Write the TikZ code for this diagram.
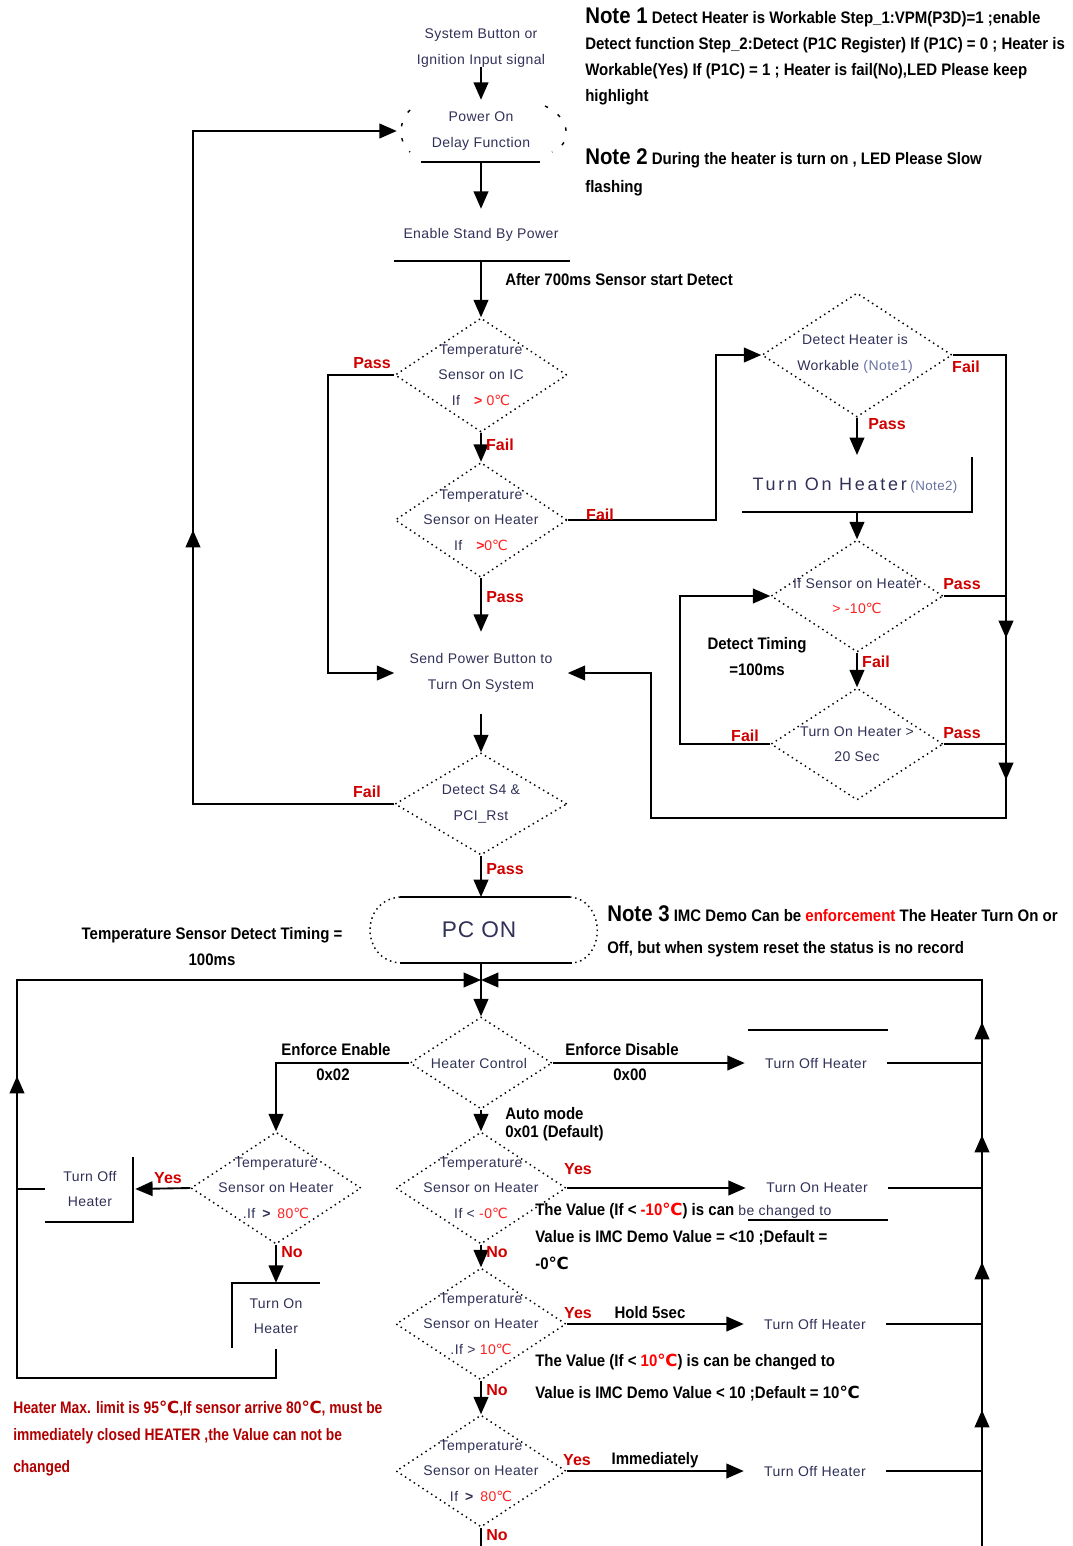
\documentclass[tikz,border=0pt]{standalone}
\usepackage{fontspec}
\setmainfont{Liberation Sans}
\newfontfamily\nf[LetterSpace=3]{Liberation Sans}
\newfontfamily\wf[LetterSpace=15]{Liberation Sans}
\newfontfamily\pf[LetterSpace=4]{Liberation Sans}
\newfontfamily\cf[FakeStretch=0.9]{Liberation Sans}
\newfontfamily\cg[FakeStretch=0.83]{Liberation Sans}
\newfontfamily\djv{DejaVu Sans}
\usetikzlibrary{arrows.meta,shapes.geometric}
\definecolor{ntext}{HTML}{303058}
\definecolor{lred}{HTML}{D00000}
\definecolor{vred}{HTML}{FF2020}
\definecolor{nlight}{HTML}{6870A0}
\definecolor{dred}{HTML}{B00000}
\newcommand\dC{{\djv ℃}}
\begin{document}
\begin{tikzpicture}[x=0.75pt,y=-0.75pt,
 ln/.style={line width=1.4pt},
 arr/.style={line width=1.4pt,-{Triangle[width=11pt,length=13pt]}},
 dotl/.style={line width=1.1pt,dash pattern=on 1.1pt off 2.8pt},
 sparse/.style={line width=1.1pt,dash pattern=on 2.5pt off 9pt},
 dia/.style n args={2}{diamond,draw,dotl,inner sep=0pt,minimum width=#1*0.75pt,minimum height=#2*0.75pt},
 txt/.style={font=\nf\fontsize{10.5}{19}\selectfont,text=ntext,align=center,inner sep=0pt},
 tbox/.style n args={2}{txt,minimum width=#1*0.75pt,minimum height=#2*0.75pt},
 lbl/.style={font=\fontsize{12}{14}\selectfont\bfseries,text=lred,inner sep=0pt},
 bn/.style={font=\cf\fontsize{12.5}{19.5}\selectfont\bfseries,align=left,inner sep=0pt},
]
\useasboundingbox (0,0) rectangle (1072,1546);

% ---------- top chain ----------
\node[txt] (sys) at (481,48) {System Button or\\Ignition Input signal};
\node[tbox={168}{62}] (pod) at (481,131) {Power On\\Delay Function};
\draw[ln] (421,162) -- (540,162);
\draw[sparse] (410,110) .. controls (398,122) and (398,142) .. (410,152);
\draw[sparse] (545,106) .. controls (572,118) and (572,145) .. (552,152);
\node[tbox={180}{52}] (esp) at (481,235) {Enable Stand By Power};
\draw[ln] (394,261) -- (570,261);
\node[bn,anchor=west] (t700) at (505,280) {After 700ms Sensor start Detect};

\node[dia={172}{114}] (d1) at (481,375) {};
\node[txt] (d1t) at (d1) {Temperature\\Sensor on IC\\If\quad{\color{vred}{\bfseries >} 0\dC}};
\node[dia={172}{115}] (d2) at (481,520) {};
\node[txt] (d2t) at (d2) {Temperature\\Sensor on Heater\\If\quad{\color{vred}{\bfseries >}0\dC}};
\node[tbox={173}{82}] (sp) at (481,673) {Send Power Button to\\Turn On System};
\node[dia={172}{102}] (d3) at (481,804) {};
\node[txt] (d3t) at (d3) {Detect S4 \&\\PCI\_Rst};

% ---------- right loop nodes ----------
\node[dia={190}{124}] (dh) at (857,355) {};
\node[txt] (dht) at (855,354) {Detect Heater is\\Workable {\color{nlight}(Note1)}};
\node[minimum height=62*0.75pt,inner sep=0pt,text=ntext] (toh) at (855,486) {{\wf\fontsize{13.5}{16}\selectfont Turn On Heater} {\nf\fontsize{10}{12}\selectfont\color{nlight}(Note2)}};
\coordinate (tohN) at (857,455);
\coordinate (tohS) at (857,512);
\draw[ln] (742,512) -- (972,512) -- (972,457);
\node[dia={172}{112}] (ds) at (857,596) {};
\node[txt] (dst) at (ds) {If Sensor on Heater\\{\color{vred}> -10\dC}};
\node[dia={172}{112}] (dt) at (857,744) {};
\node[txt] (dtt) at (dt) {Turn On Heater >\\20 Sec};
\node[bn,align=center] (dtm) at (757,657) {Detect Timing\\=100ms};

\draw[arr] (sys.south) -- (pod.north);
\draw[arr] (pod.south) -- (esp.north);
\draw[arr] (esp.south) -- (d1.north);
\draw[arr] (d1.south) -- (d2.north);
\draw[arr] (d1.west) -- (328,375) |- (sp.west);
\draw[arr] (d2.east) -- (716,520) |- (dh.west);
\draw[arr] (d2.south) -- (sp.north);
\draw[arr] (sp.south) -- (d3.north);
\draw[arr] (d3.west) -- (193,804) |- (pod.west);
\draw[arr] (193,562) -- (193,530);

\node[lbl] (lp1) at (372,363) {Pass};
\node[lbl] (lf1) at (500,445) {Fail};
\node[lbl] (lf2) at (600,515) {Fail};
\node[lbl] (lp2) at (505,597) {Pass};
\node[lbl] (lf3) at (367,792) {Fail};
\node[lbl] (lp3) at (505,869) {Pass};

\draw[arr] (dh.east) -- (1006,355) -- (1006,818) -- (651,818) |- (sp.east);
\draw[arr] (1006,610) -- (1006,638);
\draw[arr] (1006,752) -- (1006,780);
\draw[arr] (dh.south) -- (tohN);
\draw[arr] (tohS) -- (ds.north);
\draw[ln] (ds.east) -- (1006,596);
\draw[arr] (ds.south) -- (dt.north);
\draw[ln] (dt.east) -- (1006,744);
\draw[arr] (dt.west) -- (680,744) |- (ds.west);

\node[lbl] (lf4) at (966,367) {Fail};
\node[lbl] (lp4) at (887,424) {Pass};
\node[lbl] (lp5) at (962,584) {Pass};
\node[lbl] (lf5) at (876,662) {Fail};
\node[lbl] (lp6) at (962,733) {Pass};
\node[lbl] (lf6) at (745,736) {Fail};

% ---------- notes ----------
\node[bn,anchor=north west] (n1) at (585,8) {{\fontsize{17}{19.5}\selectfont Note 1} Detect Heater is Workable Step\_1:VPM(P3D)=1 ;enable\\Detect function Step\_2:Detect (P1C Register) If (P1C) = 0 ; Heater is\\Workable(Yes) If (P1C) = 1 ; Heater is fail(No),LED Please keep\\highlight};
\node[bn,anchor=north west,font=\cf\fontsize{12.5}{21}\selectfont\bfseries] (n2) at (585,148) {{\fontsize{17}{21}\selectfont Note 2} During the heater is turn on , LED Please Slow\\flashing};
\node[bn,anchor=north west,font=\cf\fontsize{12.5}{24}\selectfont\bfseries] (n3) at (607,905) {{\fontsize{17}{24}\selectfont Note 3} IMC Demo Can be {\color{red}enforcement} The Heater Turn On or\\Off, but when system reset the status is no record};
\node[bn,align=center] (tsd) at (212,947) {Temperature Sensor Detect Timing =\\100ms};

% ---------- PC ON ----------
\node[minimum width=170*0.75pt,minimum height=66*0.75pt,inner sep=0pt,text=ntext,font=\pf\fontsize{17}{20}\selectfont] (pcon) at (479,930) {PC ON};
\coordinate (pcN) at (481,897);
\coordinate (pcS) at (481,963);
\draw[ln] (400,897) -- (570,897);
\draw[ln] (400,963) -- (572,963);
\draw[dotl] (400,897) .. controls (360,900) and (360,960) .. (400,963);
\draw[dotl] (570,897) .. controls (606,900) and (606,960) .. (572,963);
\draw[arr] (d3.south) -- (pcN);

% ---------- heater control ----------
\coordinate (jn) at (481,980);
\node[dia={142}{92}] (hc) at (481,1063) {};
\node[txt] (hct) at (479,1063) {Heater Control};
\draw[arr] (pcS) -- (hc.north);

\node[tbox={142}{40}] (toff1) at (816,1063) {Turn Off Heater};
\draw[ln] (748,1030) -- (888,1030);
\node[bn] (ee) at (336,1050) {Enforce Enable};
\node[bn] (ee2) at (333,1075) {0x02};
\node[bn] (ed) at (622,1050) {Enforce Disable};
\node[bn] (ed2) at (630,1075) {0x00};
\node[bn,anchor=west,font=\cf\fontsize{12.5}{13.5}\selectfont\bfseries] (am) at (505,1124) {Auto mode\\0x01 (Default)};

\node[dia={170}{112}] (dl) at (276,1188) {};
\node[txt] (dlt) at (dl) {Temperature\\Sensor on Heater\\.If\enspace{\bfseries >}\enspace{\color{vred}80\dC}};
\node[tbox={90}{66}] (toffL) at (90,1189) {Turn Off\\Heater};
\draw[ln] (133,1157) -- (133,1222) -- (45,1222);
\node[tbox={88}{66}] (tonL) at (276,1316) {Turn On\\Heater};
\draw[ln] (320,1283) -- (232,1283) -- (232,1348);

\node[dia={170}{112}] (da) at (481,1188) {};
\node[txt] (dat) at (da) {Temperature\\Sensor on Heater\\If < {\color{vred}-0\dC}};
\node[tbox={142}{40}] (ton) at (817,1188) {Turn On Heater};
\draw[ln] (748,1220) -- (888,1220);
\node[bn,anchor=north west,font=\cf\fontsize{12.5}{20}\selectfont\bfseries] (v1) at (535,1203) {The Value (If < {\color{red}-10\dC}) is can {\nf\mdseries\fontsize{10.5}{20}\selectfont\color{ntext}be changed to}\\Value is IMC Demo Value = <10 ;Default =\\-0\dC};

\node[dia={170}{112}] (db) at (481,1324) {};
\node[txt] (dbt) at (db) {Temperature\\Sensor on Heater\\.If > {\color{vred}10\dC}};
\node[tbox={142}{40}] (toff2) at (815,1324) {Turn Off Heater};
\node[bn,anchor=north west,font=\cf\fontsize{12.5}{24}\selectfont\bfseries] (v2) at (535,1354) {The Value (If < {\color{red}10\dC}) is can be changed to\\Value is IMC Demo Value < 10 ;Default = 10\dC};

\node[dia={170}{112}] (dc) at (481,1471) {};
\node[txt] (dct) at (dc) {Temperature\\Sensor on Heater\\If\enspace{\bfseries >}\enspace{\color{vred}80\dC}};
\node[tbox={142}{40}] (toff3) at (815,1471) {Turn Off Heater};
\coordinate (bot) at (481,1546);

\node[bn,anchor=north west,text=dred,font=\cg\fontsize{12.5}{20}\selectfont\bfseries] (rn) at (13,1401) {Heater Max. limit is 95\dC,If sensor arrive 80\dC, must be\\immediately closed HEATER ,the Value can not be\\[4pt]changed};

% connectors bottom
\draw[arr] (tonL.south) -- (276,1378) -- (17,1378) -- (17,980) -- (jn);
\draw[arr] (17,1100) -- (17,1076);
\draw[ln] (toffL.west) -- (17,1189);
\draw[arr] (982,1546) -- (982,980) -- (jn);
\draw[arr] (982,1046) -- (982,1022);
\draw[arr] (982,1159) -- (982,1135);
\draw[arr] (982,1286) -- (982,1262);
\draw[arr] (982,1434) -- (982,1410);
\draw[arr] (hc.west) -- (276,1063) -- (dl.north);
\draw[arr] (hc.east) -- (toff1.west);
\draw[ln] (toff1.east) -- (982,1063);
\draw[arr] (hc.south) -- (da.north);
\draw[arr] (dl.west) -- (toffL.east);
\draw[arr] (dl.south) -- (tonL.north);
\draw[arr] (da.east) -- (ton.west);
\draw[ln] (ton.east) -- (982,1188);
\draw[arr] (da.south) -- (db.north);
\draw[arr] (db.east) -- (toff2.west);
\draw[ln] (toff2.east) -- (982,1324);
\draw[arr] (db.south) -- (dc.north);
\draw[arr] (dc.east) -- (toff3.west);
\draw[ln] (toff3.east) -- (982,1471);
\draw[ln] (dc.south) -- (bot);

\node[lbl] (ly1) at (168,1178) {Yes};
\node[lbl] (ln1) at (292,1252) {No};
\node[lbl] (ly2) at (578,1169) {Yes};
\node[lbl] (ln2) at (497,1252) {No};
\node[lbl] (ly3) at (578,1313) {Yes};
\node[bn] (h5) at (650,1313) {Hold 5sec};
\node[lbl] (ln3) at (497,1390) {No};
\node[lbl] (ly4) at (577,1460) {Yes};
\node[bn] (imm) at (655,1460) {Immediately};
\node[lbl] (ln4) at (497,1535) {No};
\end{tikzpicture}
\end{document}
